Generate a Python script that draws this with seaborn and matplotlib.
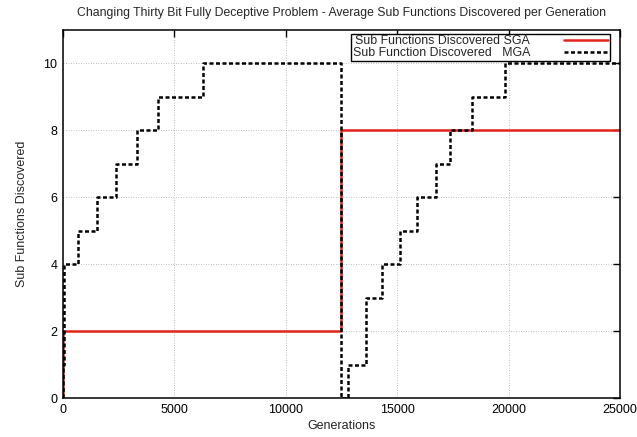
import matplotlib
matplotlib.use("Agg")
import matplotlib.pyplot as plt
import seaborn as sns
import pandas as pd

# Average number of sub functions discovered, step values per generation
sga_generations = [0, 1, 12500, 25000]
sga_discovered = [0, 2, 8, 8]

mga_generations = [0, 10, 30, 60, 676, 1547, 2387, 3303, 4279, 6276,
                   12500, 12780, 13590, 14310, 15135, 15880, 16720, 17380,
                   18350, 19850, 25000]
mga_discovered = [0, 1, 3, 4, 5, 6, 7, 8, 9, 10,
                  0, 1, 3, 4, 5, 6, 7, 8, 9, 10, 10]

x_ticks = [0, 5000, 10000, 15000, 20000, 25000]
y_ticks = [0, 2, 4, 6, 8, 10]

sga = pd.DataFrame({"Generations": sga_generations, "Discovered": sga_discovered})
mga = pd.DataFrame({"Generations": mga_generations, "Discovered": mga_discovered})

sns.set_style("white")
plt.rcParams["font.family"] = ["Liberation Sans", "DejaVu Sans"]

fig = plt.figure(figsize=(6.37, 4.37), dpi=100)
ax = fig.add_axes([0.0989, 0.0886, 0.8744, 0.8428])

sns.lineplot(data=sga, x="Generations", y="Discovered", ax=ax,
             drawstyle="steps-post", estimator=None, sort=False,
             color="#e3231b", linewidth=1.8,
             label="Sub Functions Discovered SGA")
sns.lineplot(data=mga, x="Generations", y="Discovered", ax=ax,
             drawstyle="steps-post", estimator=None, sort=False,
             color="black", linewidth=1.8, linestyle=(0, (1.6, 1.0)),
             label="Sub Function Discovered   MGA")

ax.set_xlim(0, 25000)
ax.set_ylim(0, 11)
ax.set_xticks(x_ticks)
ax.set_yticks(y_ticks)
ax.tick_params(axis="both", direction="in", length=5, width=1,
               top=True, right=True, labelsize=9, pad=4, colors="black")
ax.grid(True, linestyle=(0, (1, 2)), color="#aaaaaa", linewidth=0.6)

for sp in ax.spines.values():
    sp.set_color("black")
    sp.set_linewidth(1.1)
    sp.set_visible(True)

ax.set_xlabel("Generations", fontsize=9, labelpad=3)
ax.set_ylabel("Sub Functions Discovered", fontsize=9, labelpad=11)
ax.set_title("Changing Thirty Bit Fully Deceptive Problem - Average Sub Functions Discovered per Generation",
             fontsize=8.8, pad=10)

leg = ax.legend(loc="upper right", bbox_to_anchor=(0.988, 1.0),
                markerfirst=False, fontsize=8.9, frameon=True, fancybox=False,
                borderpad=0.12, labelspacing=0.0, handlelength=3.6,
                handletextpad=2.7, borderaxespad=0.3)
leg.get_frame().set_edgecolor("black")
leg.get_frame().set_linewidth(1.0)
leg.get_frame().set_alpha(1)

fig.savefig("out.png", dpi=100)
